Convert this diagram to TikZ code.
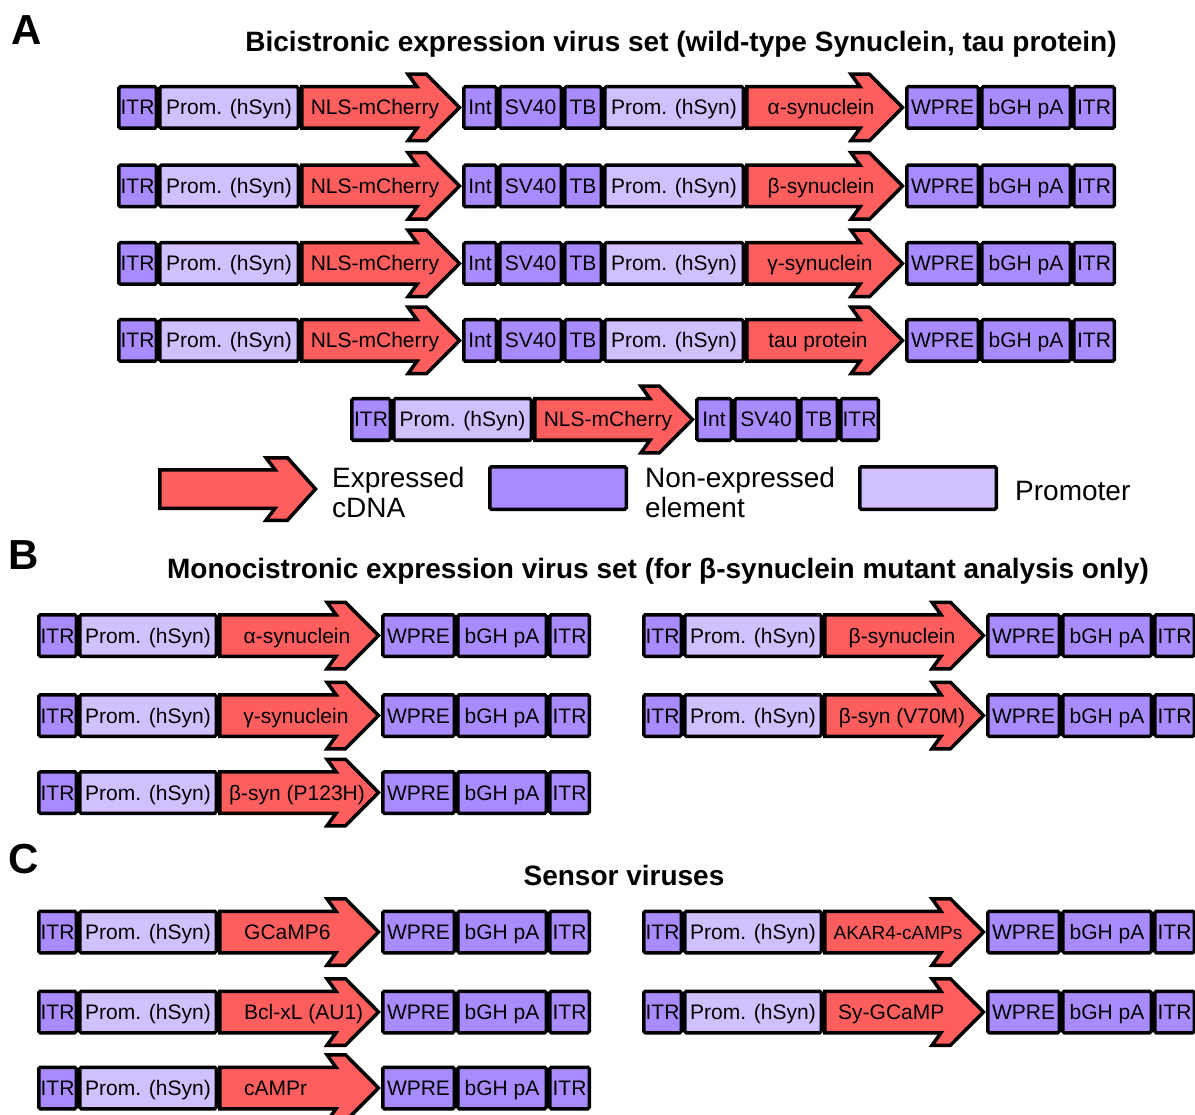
\documentclass[tikz,border=0pt]{standalone}
\usepackage{fontspec}
\setmainfont{Liberation Sans}
\definecolor{nonexp}{HTML}{A88CFF}
\definecolor{promc}{HTML}{D0C0FF}
\definecolor{cdnac}{HTML}{FF5E5E}
\tikzset{
  blk/.style={draw=black, line width=3.5pt, rounded corners=1.5pt, inner sep=0pt,
    minimum height=41.5pt, text height=15pt, text depth=0pt,
    font=\fontsize{21}{24}\selectfont, text=black},
  nonexpbox/.style={blk, fill=nonexp},
  prombox/.style={blk, fill=promc},
  arrowpath/.style={draw=black, fill=cdnac, line width=3.5pt, line join=miter},
  arrlbl/.style={inner sep=0pt, text height=15pt, text depth=0pt, font=\fontsize{21}{24}\selectfont},
  heading/.style={font=\bfseries\fontsize{28}{32}\selectfont, inner sep=0pt, anchor=base},
  panel/.style={font=\bfseries\fontsize{42}{46}\selectfont, inner sep=0pt, anchor=base},
  legtxt/.style={font=\fontsize{28}{30}\selectfont, inner sep=0pt, anchor=base west},
}
% #1 name, #2 x1, #3 x2, #4 yc, #5 text, #6 style
\newcommand\myelem[6]{\node[#6, minimum width={(#3)-(#2)-3.5}] (#1) at ({((#2)+(#3))/2},#4) {#5};}
% #1 name, #2 x1, #3 x2, #4 yc, #5 label, #6 label x, #7 anchor, #8 extra options
\newcommand\mycdna[8]{%
  \draw[arrowpath] ({(#2)+1.75},{#4-20.75}) -- ({(#3)-45},{#4-20.75}) -- ({(#3)-54},{#4-33.25})
    -- ({(#3)-35.5},{#4-33.25}) -- ({(#3)-2.5},#4) -- ({(#3)-35.5},{#4+33.25})
    -- ({(#3)-54},{#4+33.25}) -- ({(#3)-45},{#4+20.75}) -- ({(#2)+1.75},{#4+20.75}) -- cycle;
  \node[arrlbl, anchor=#7, #8] (#1) at ({#6},#4) {#5};}
% bicistronic row: #1 prefix, #2 yc, #3 label, #4 label x
\newcommand\rowA[4]{%
  \myelem{#1a}{117}{158}{#2}{ITR}{nonexpbox}
  \myelem{#1b}{158}{300}{#2}{Prom. (hSyn)}{prombox}
  \myelem{#1d}{462}{498}{#2}{Int}{nonexpbox}
  \myelem{#1e}{498}{563}{#2}{SV40}{nonexpbox}
  \myelem{#1f}{563}{603}{#2}{TB}{nonexpbox}
  \myelem{#1g}{603}{745}{#2}{Prom. (hSyn)}{prombox}
  \myelem{#1i}{905}{980}{#2}{WPRE}{nonexpbox}
  \myelem{#1j}{980}{1072}{#2}{bGH pA}{nonexpbox}
  \myelem{#1k}{1072}{1116}{#2}{ITR}{nonexpbox}
  \mycdna{#1c}{300}{462}{#2}{NLS-mCherry}{375}{center}{}
  \mycdna{#1h}{745}{905}{#2}{#3}{#4}{center}{}}
% single-cassette row: #1 prefix, #2 x offset, #3 yc, #4 label, #5 label x (relative), #6 anchor, #7 label options
\newcommand\rowS[7]{%
  \myelem{#1a}{#2+37}{#2+78}{#3}{ITR}{nonexpbox}
  \myelem{#1b}{#2+78}{#2+218}{#3}{Prom. (hSyn)}{prombox}
  \myelem{#1d}{#2+381}{#2+456}{#3}{WPRE}{nonexpbox}
  \myelem{#1e}{#2+456}{#2+548}{#3}{bGH pA}{nonexpbox}
  \myelem{#1f}{#2+548}{#2+591}{#3}{ITR}{nonexpbox}
  \mycdna{#1c}{#2+218}{#2+381}{#3}{#4}{#2+#5}{#6}{#7}}
\begin{document}
\begin{tikzpicture}[x=1pt,y=-1pt]
\clip (0,0) rectangle (1195,1115);
\fill[white] (0,0) rectangle (1195,1115);
% ---------- panel A ----------
\node[panel] (pA) at (27,45) {A};
\node[heading] (tA) at (681,52) {Bicistronic expression virus set (wild-type Synuclein, tau protein)};
\rowA{r1}{107.5}{α-synuclein}{821}
\rowA{r2}{186}{β-synuclein}{821}
\rowA{r3}{263.5}{γ-synuclein}{820}
\rowA{r4}{340.5}{tau protein}{818}
% control row
\myelem{r5a}{350}{392}{419.5}{ITR}{nonexpbox}
\myelem{r5b}{392}{533}{419.5}{Prom. (hSyn)}{prombox}
\myelem{r5d}{695}{733}{419.5}{Int}{nonexpbox}
\myelem{r5e}{733}{799}{419.5}{SV40}{nonexpbox}
\myelem{r5f}{799}{839}{419.5}{TB}{nonexpbox}
\myelem{r5g}{839}{880}{419.5}{ITR}{nonexpbox}
\mycdna{r5c}{533}{695}{419.5}{NLS-mCherry}{608}{center}{}
% legend
\draw[arrowpath] (159.75,469.75) -- (275,469.75) -- (266,457.75) -- (287.5,457.75) -- (315.5,489)
  -- (287.5,520.25) -- (266,520.25) -- (275,508.25) -- (159.75,508.25) -- cycle;
\node[legtxt] (lg1) at (332,487) {Expressed};
\node[legtxt] (lg2) at (332,517) {cDNA};
\node[draw=black, line width=3.5pt, rounded corners=1.5pt, fill=nonexp, minimum width=136.5pt, minimum height=42.5pt] (lgb) at (558,488) {};
\node[legtxt] (lg3) at (645,487) {Non-expressed};
\node[legtxt] (lg4) at (645,517) {element};
\node[draw=black, line width=3.5pt, rounded corners=1.5pt, fill=promc, minimum width=136.5pt, minimum height=42.5pt] (lgp) at (928,488) {};
\node[legtxt] (lg5) at (1015,500) {Promoter};
% ---------- panel B ----------
\node[panel] (pB) at (24,569) {B};
\node[heading] (tB) at (658,578) {Monocistronic expression virus set (for β-synuclein mutant analysis only)};
\rowS{b1}{0}{635.5}{α-synuclein}{297}{center}{}
\rowS{b2}{0}{715.5}{γ-synuclein}{296}{center}{}
\rowS{b3}{0}{792.5}{β-syn (P123H)}{297}{center}{}
\rowS{b4}{605}{635.5}{β-synuclein}{297}{center}{}
\rowS{b5}{605}{715.5}{β-syn (V70M)}{297}{center}{}
% ---------- panel C ----------
\node[panel] (pC) at (24,873) {C};
\node[heading] (tC) at (624,885) {Sensor viruses};
\rowS{c1}{0}{932}{GCaMP6}{244}{west}{}
\rowS{c2}{0}{1012}{Bcl-xL (AU1)}{244}{west}{}
\rowS{c3}{0}{1088}{cAMPr}{244}{west}{}
\rowS{c4}{605}{932}{AKAR4-cAMPs}{293}{center}{font=\fontsize{19}{22}\selectfont}
\rowS{c5}{605}{1012}{Sy-GCaMP}{233}{west}{}
\end{tikzpicture}
\end{document}
